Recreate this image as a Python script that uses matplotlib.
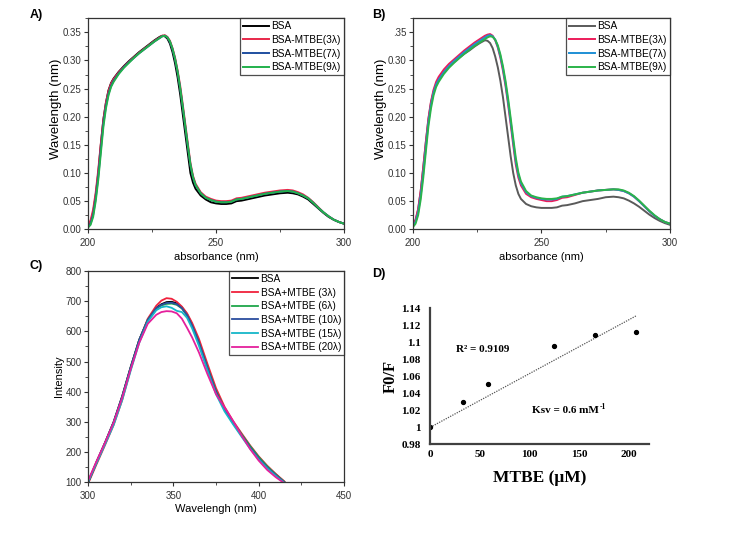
import numpy as np
import matplotlib
matplotlib.use("Agg")
import matplotlib.pyplot as plt
from matplotlib.ticker import MultipleLocator, FixedLocator, FixedFormatter
from matplotlib.transforms import offset_copy

plt.rcParams['font.family'] = ['Liberation Sans', 'DejaVu Sans']

# ---------- panel A / B : UV absorbance ----------
x_uv = [200, 201, 202, 203, 204, 205, 206, 207, 208, 209, 210, 212, 214, 216, 218, 220,
        222, 224, 226, 228, 229, 230, 231, 232, 233, 234, 235, 236, 237, 238, 239, 240,
        241, 242, 244, 246, 248, 250, 252, 254, 256, 258, 260, 263, 266, 269, 272, 275,
        278, 280, 282, 284, 286, 288, 290, 292, 294, 296, 298, 300]

a_bsa = [0.005, 0.012, 0.030, 0.060, 0.100, 0.150, 0.195, 0.225, 0.247, 0.260, 0.268, 0.280,
         0.290, 0.299, 0.307, 0.315, 0.322, 0.329, 0.336, 0.342, 0.344, 0.343, 0.339, 0.330,
         0.315, 0.295, 0.270, 0.240, 0.205, 0.170, 0.135, 0.100, 0.083, 0.072, 0.060, 0.053,
         0.048, 0.046, 0.045, 0.045, 0.046, 0.050, 0.051, 0.054, 0.057, 0.060, 0.062, 0.064,
         0.065, 0.064, 0.062, 0.058, 0.053, 0.045, 0.037, 0.029, 0.022, 0.017, 0.013, 0.010]
a_m3 = [0.007, 0.016, 0.035, 0.065, 0.105, 0.152, 0.195, 0.225, 0.246, 0.259, 0.267, 0.279,
        0.289, 0.298, 0.306, 0.314, 0.321, 0.328, 0.335, 0.341, 0.344, 0.345, 0.342, 0.335,
        0.322, 0.305, 0.282, 0.255, 0.222, 0.187, 0.152, 0.118, 0.095, 0.081, 0.066, 0.058,
        0.054, 0.051, 0.050, 0.050, 0.051, 0.055, 0.056, 0.059, 0.062, 0.065, 0.067, 0.069,
        0.070, 0.069, 0.066, 0.062, 0.056, 0.048, 0.039, 0.030, 0.023, 0.017, 0.013, 0.010]
a_m7 = [0.004, 0.010, 0.026, 0.055, 0.094, 0.142, 0.188, 0.219, 0.241, 0.255, 0.264, 0.277,
        0.288, 0.297, 0.305, 0.313, 0.320, 0.327, 0.334, 0.340, 0.343, 0.344, 0.341, 0.333,
        0.320, 0.302, 0.279, 0.250, 0.217, 0.182, 0.147, 0.114, 0.092, 0.078, 0.064, 0.056,
        0.052, 0.049, 0.048, 0.048, 0.049, 0.053, 0.054, 0.057, 0.060, 0.063, 0.065, 0.067,
        0.068, 0.067, 0.064, 0.060, 0.055, 0.047, 0.038, 0.030, 0.023, 0.017, 0.013, 0.010]
a_m9 = [0.003, 0.008, 0.022, 0.050, 0.088, 0.135, 0.182, 0.215, 0.238, 0.253, 0.262, 0.276,
        0.287, 0.296, 0.305, 0.313, 0.320, 0.327, 0.334, 0.340, 0.343, 0.344, 0.341, 0.334,
        0.321, 0.303, 0.280, 0.251, 0.218, 0.183, 0.148, 0.115, 0.093, 0.079, 0.064, 0.056,
        0.052, 0.049, 0.048, 0.048, 0.049, 0.053, 0.054, 0.057, 0.060, 0.063, 0.065, 0.067,
        0.068, 0.067, 0.064, 0.060, 0.055, 0.047, 0.038, 0.030, 0.023, 0.017, 0.013, 0.010]

b_bsa = [0.008, 0.016, 0.035, 0.068, 0.110, 0.155, 0.195, 0.225, 0.245, 0.258, 0.267, 0.279,
         0.289, 0.297, 0.305, 0.312, 0.318, 0.325, 0.331, 0.336, 0.335, 0.331, 0.322, 0.307,
         0.288, 0.264, 0.235, 0.200, 0.165, 0.130, 0.100, 0.078, 0.063, 0.054, 0.045, 0.041,
         0.039, 0.038, 0.038, 0.038, 0.039, 0.042, 0.043, 0.046, 0.050, 0.052, 0.054, 0.057,
         0.058, 0.057, 0.055, 0.051, 0.046, 0.040, 0.033, 0.026, 0.020, 0.015, 0.011, 0.008]
b_m3 = [0.008, 0.017, 0.036, 0.068, 0.110, 0.155, 0.197, 0.227, 0.248, 0.262, 0.271, 0.284,
        0.294, 0.302, 0.310, 0.318, 0.325, 0.332, 0.338, 0.344, 0.346, 0.347, 0.344, 0.336,
        0.323, 0.305, 0.282, 0.255, 0.222, 0.187, 0.150, 0.115, 0.092, 0.078, 0.063, 0.057,
        0.054, 0.052, 0.050, 0.050, 0.052, 0.056, 0.057, 0.061, 0.065, 0.067, 0.069, 0.070,
        0.071, 0.070, 0.068, 0.064, 0.058, 0.050, 0.041, 0.032, 0.024, 0.018, 0.013, 0.010]
b_m7 = [0.006, 0.013, 0.030, 0.060, 0.100, 0.146, 0.190, 0.221, 0.243, 0.257, 0.266, 0.279,
        0.290, 0.299, 0.307, 0.315, 0.322, 0.329, 0.335, 0.341, 0.344, 0.345, 0.343, 0.337,
        0.325, 0.308, 0.286, 0.259, 0.227, 0.192, 0.156, 0.121, 0.097, 0.082, 0.066, 0.059,
        0.056, 0.054, 0.053, 0.053, 0.054, 0.058, 0.059, 0.062, 0.065, 0.067, 0.069, 0.070,
        0.071, 0.070, 0.068, 0.064, 0.058, 0.050, 0.041, 0.032, 0.024, 0.018, 0.013, 0.010]
b_m9 = [0.004, 0.010, 0.025, 0.053, 0.092, 0.138, 0.183, 0.215, 0.238, 0.253, 0.262, 0.276,
        0.287, 0.296, 0.304, 0.312, 0.319, 0.326, 0.332, 0.338, 0.341, 0.343, 0.342, 0.337,
        0.327, 0.311, 0.290, 0.264, 0.233, 0.198, 0.162, 0.127, 0.101, 0.085, 0.068, 0.060,
        0.057, 0.055, 0.054, 0.054, 0.055, 0.058, 0.059, 0.062, 0.065, 0.067, 0.069, 0.070,
        0.071, 0.071, 0.069, 0.065, 0.059, 0.051, 0.042, 0.033, 0.025, 0.018, 0.013, 0.010]

uv_labels = ['BSA', 'BSA-MTBE(3λ)', 'BSA-MTBE(7λ)', 'BSA-MTBE(9λ)']
a_colors = ['#000000', '#e8284a', '#1f4fa0', '#22b14c']
b_colors = ['#5a5a5a', '#ec1c5a', '#1e8fd5', '#2bb34a']

# ---------- panel C : fluorescence ----------
x_fl = [300, 305, 310, 315, 320, 325, 330, 335, 340, 343, 346, 349, 352, 355, 358, 361,
        365, 370, 375, 380, 385, 390, 395, 400, 405, 410, 415]
c_bsa = [100, 168, 232, 300, 385, 482, 572, 638, 678, 690, 697, 698, 693, 680, 657, 622,
         566, 482, 402, 342, 297, 256, 216, 181, 151, 126, 102]
c_m3 = [95, 160, 224, 290, 372, 474, 570, 642, 685, 702, 710, 708, 698, 682, 660, 628,
        575, 492, 412, 350, 303, 262, 222, 186, 155, 128, 103]
c_m6 = [98, 165, 230, 298, 382, 480, 571, 638, 676, 686, 691, 692, 688, 676, 653, 618,
        562, 480, 402, 343, 299, 259, 220, 184, 153, 126, 101]
c_m10 = [99, 166, 231, 299, 384, 481, 572, 638, 677, 688, 694, 695, 690, 677, 654, 619,
         563, 479, 400, 341, 296, 255, 215, 179, 149, 124, 100]
c_m15 = [102, 164, 226, 290, 372, 470, 562, 632, 670, 680, 683, 678, 668, 664, 645, 610,
         552, 470, 392, 335, 292, 251, 211, 176, 146, 121, 98]
c_m20 = [105, 170, 232, 298, 380, 475, 562, 625, 655, 664, 667, 666, 660, 642, 612, 580,
         530, 458, 392, 348, 303, 255, 210, 172, 141, 117, 97]
fl_series = [c_bsa, c_m3, c_m6, c_m10, c_m15, c_m20]
fl_labels = ['BSA', 'BSA+MTBE (3λ)', 'BSA+MTBE (6λ)', 'BSA+MTBE (10λ)',
             'BSA+MTBE (15λ)', 'BSA+MTBE (20λ)']
fl_colors = ['#000000', '#f0213c', '#1fa64a', '#2b4d9e', '#16b6c8', '#e4209c']

# ---------- panel D : Stern-Volmer ----------
mtbe = np.array([0, 33, 58, 124, 166, 207])
f0_f = np.array([1.000, 1.030, 1.051, 1.096, 1.109, 1.112])


def style_axes(ax):
    for s in ax.spines.values():
        s.set_color('#333333')
        s.set_linewidth(0.9)
    ax.tick_params(which='both', direction='out', labelsize=7, colors='#333333')
    ax.tick_params(which='major', length=3)
    ax.tick_params(which='minor', length=2)
    ax.tick_params(axis='y', pad=1.5)


def add_legend(ax):
    leg = ax.legend(loc='upper right', fontsize=7.3, frameon=True, fancybox=False,
                    borderaxespad=0, handlelength=2.5, handletextpad=0.3,
                    labelspacing=0.36, borderpad=0.3)
    leg.get_frame().set_edgecolor('#222222')
    leg.get_frame().set_linewidth(0.9)


fig = plt.figure(figsize=(7.44, 5.38), dpi=100)

# A
axA = fig.add_axes([0.1183, 0.5738, 0.3441, 0.3922])
for y, c, lab in zip([a_bsa, a_m3, a_m7, a_m9], a_colors, uv_labels):
    axA.plot(x_uv, y, color=c, lw=1.4, label=lab)
# B
axB = fig.add_axes([0.5551, 0.5738, 0.3454, 0.3922])
for y, c, lab in zip([b_bsa, b_m3, b_m7, b_m9], b_colors, uv_labels):
    axB.plot(x_uv, y, color=c, lw=1.4, label=lab)

for ax in (axA, axB):
    ax.set_xlim(200, 300)
    ax.set_ylim(0, 0.375)
    ax.xaxis.set_major_locator(MultipleLocator(50))
    ax.xaxis.set_minor_locator(MultipleLocator(25))
    ax.yaxis.set_major_locator(FixedLocator([0, 0.05, 0.10, 0.15, 0.20, 0.25, 0.30, 0.35]))
    ax.yaxis.set_minor_locator(MultipleLocator(0.025))
    ax.set_xlabel('absorbance (nm)', fontsize=8)
    ax.set_ylabel('Wavelength (nm)', fontsize=9.5)
    ax.xaxis.set_label_coords(0.5, -0.13)
    ax.yaxis.set_label_coords(-0.125, 0.57)
    ax.xaxis.label.set_va('center')
    ax.yaxis.label.set_va('center')
    style_axes(ax)
    add_legend(ax)

axA.yaxis.set_major_formatter(FixedFormatter(['0.00', '0.05', '0.10', '0.15', '0.20',
                                              '0.25', '0.30', '0.35']))
axB.yaxis.set_major_formatter(FixedFormatter(['0.00', '0.05', '0.10', '0.15', '0.20',
                                              '0.25', '0.30', '.35']))

# C
axC = fig.add_axes([0.1183, 0.1035, 0.3441, 0.3928])
for y, c, lab in zip(fl_series, fl_colors, fl_labels):
    axC.plot(x_fl, y, color=c, lw=1.3, label=lab)
axC.set_xlim(300, 450)
axC.set_ylim(100, 800)
axC.xaxis.set_major_locator(MultipleLocator(50))
axC.xaxis.set_minor_locator(MultipleLocator(25))
axC.yaxis.set_major_locator(MultipleLocator(100))
axC.yaxis.set_minor_locator(MultipleLocator(50))
axC.set_xlabel('Wavelengh (nm)', fontsize=8)
axC.set_ylabel('Intensity', fontsize=8)
axC.xaxis.set_label_coords(0.5, -0.128)
axC.yaxis.set_label_coords(-0.115, 0.5)
axC.xaxis.label.set_va('center')
axC.yaxis.label.set_va('center')
style_axes(axC)
add_legend(axC)

# D
axD = fig.add_axes([0.5784, 0.1742, 0.2939, 0.2528])
ksv_slope = np.sum(mtbe * (f0_f - 1)) / np.sum(mtbe ** 2)
xx = np.array([0, mtbe.max()])
axD.plot(xx, 1 + ksv_slope * xx, ls=(0, (1, 1)), color='#555555', lw=0.9)
axD.plot(mtbe, f0_f, 'o', color='black', ms=2.8)
axD.set_xlim(0, 220)
axD.set_ylim(0.98, 1.14)
axD.set_xticks([0, 50, 100, 150, 200])
axD.set_yticks([0.98, 1.0, 1.02, 1.04, 1.06, 1.08, 1.1, 1.12, 1.14])
axD.set_yticklabels(['0.98', '1', '1.02', '1.04', '1.06', '1.08', '1.1', '1.12', '1.14'])
for s in ('top', 'right'):
    axD.spines[s].set_visible(False)
for s in ('left', 'bottom'):
    axD.spines[s].set_color('#404040')
    axD.spines[s].set_linewidth(1.6)
axD.tick_params(axis='y', length=0, pad=7, labelsize=8)
axD.tick_params(axis='x', length=0, pad=4, labelsize=8)
for t in axD.get_xticklabels() + axD.get_yticklabels():
    t.set_family('Liberation Serif')
    t.set_fontweight('bold')
axD.set_xlabel('MTBE (μM)', fontsize=12.5, fontweight='bold', family='Liberation Serif')
axD.set_ylabel('F0/F', fontsize=12, fontweight='bold', family='Liberation Serif')
axD.xaxis.set_label_coords(0.5, -0.25)
axD.yaxis.set_label_coords(-0.18, 0.5)
axD.xaxis.label.set_va('center')
axD.yaxis.label.set_va('center')
axD.text(53, 1.091, 'R² = 0.9109', fontsize=8, fontweight='bold',
         family='Liberation Serif', ha='center', va='center')
axD.text(170, 1.02, 'Ksv = 0.6 mM', fontsize=8, fontweight='bold',
         family='Liberation Serif', ha='right', va='center')
sup = offset_copy(axD.transData, fig=fig, x=0.3, y=2.5, units='points')
axD.text(170, 1.02, '-1', fontsize=5.5, fontweight='bold', family='Liberation Serif',
         ha='left', va='center', transform=sup)

# panel letters
fig.text(0.040, 0.972, 'A)', fontsize=9, fontweight='bold', va='center')
fig.text(0.500, 0.972, 'B)', fontsize=9, fontweight='bold', va='center')
fig.text(0.040, 0.505, 'C)', fontsize=9, fontweight='bold', va='center')
fig.text(0.500, 0.490, 'D)', fontsize=9, fontweight='bold', va='center')

fig.savefig('out.png', dpi=100)
